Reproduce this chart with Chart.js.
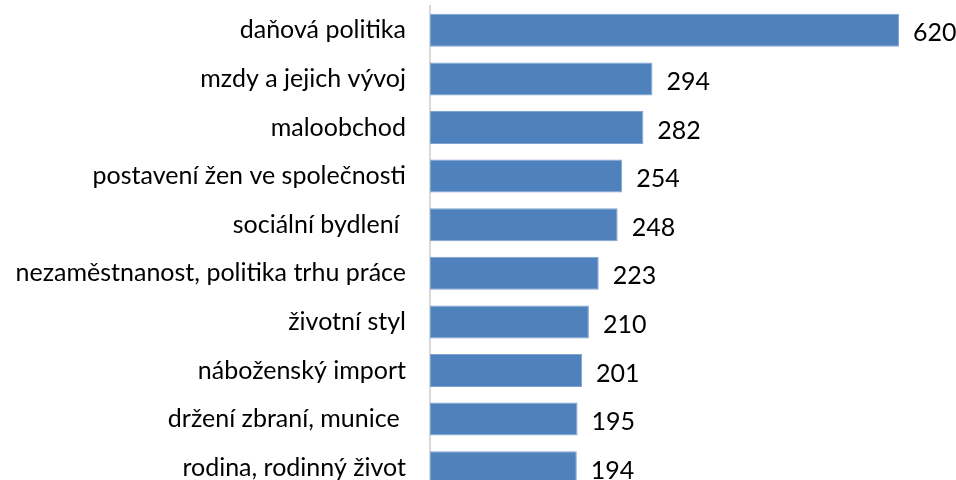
<!DOCTYPE html>
<html>
<head>
<meta charset="utf-8">
<script src="https://cdn.jsdelivr.net/npm/chart.js@4"></script>
<style>
  html, body { margin: 0; padding: 0; background: #fff; overflow: hidden; }
</style>
</head>
<body>
<canvas id="chart" width="956" height="500"></canvas>
<script>
const categories = [
    "daňová politika",
    "mzdy a jejich vývoj",
    "maloobchod",
    "postavení žen ve společnosti",
    "sociální bydlení ",
    "nezaměstnanost, politika trhu práce",
    "životní styl",
    "náboženský import",
    "držení zbraní, munice ",
    "rodina, rodinný život"
];
const counts = [620, 294, 282, 254, 248, 223, 210, 201, 195, 194];

const fontFamily = "Lato, 'Liberation Sans', sans-serif";

// value labels to the right of each bar
const valueLabels = {
    id: "valueLabels",
    afterDatasetsDraw(chart) {
        const ctx = chart.ctx;
        const meta = chart.getDatasetMeta(0);
        ctx.save();
        ctx.font = "25px " + fontFamily;
        ctx.fillStyle = "#000";
        ctx.textAlign = "left";
        ctx.textBaseline = "middle";
        meta.data.forEach((bar, i) => {
            ctx.fillText(String(counts[i]), bar.x + 14, bar.y + 3);
        });
        ctx.restore();
    }
};

const ctx = document.getElementById("chart").getContext("2d");
new Chart(ctx, {
    type: "bar",
    data: {
        labels: categories,
        datasets: [{
            data: counts,
            backgroundColor: "#4f81bd",
            borderColor: "#7fa3cf",
            borderWidth: 1,
            borderSkipped: false,
            barPercentage: 0.68,
            categoryPercentage: 1.0
        }]
    },
    options: {
        indexAxis: "y",
        responsive: false,
        animation: false,
        layout: { padding: { top: 6, bottom: 8, right: 10, left: 0 } },
        plugins: {
            legend: { display: false },
            tooltip: { enabled: false }
        },
        scales: {
            x: { min: 0, max: 682, display: false },
            y: {
                afterFit(scale) {
                    scale.width = 430;
                    scale.paddingTop = 0;
                    scale.paddingBottom = 0;
                },
                grid: { display: false, drawTicks: false },
                border: { display: true, color: "#d9d9d9", width: 2 },
                ticks: {
                    color: "#000",
                    padding: 24,
                    font: { size: 25, family: fontFamily }
                }
            }
        }
    },
    plugins: [valueLabels]
});
</script>
</body>
</html>
